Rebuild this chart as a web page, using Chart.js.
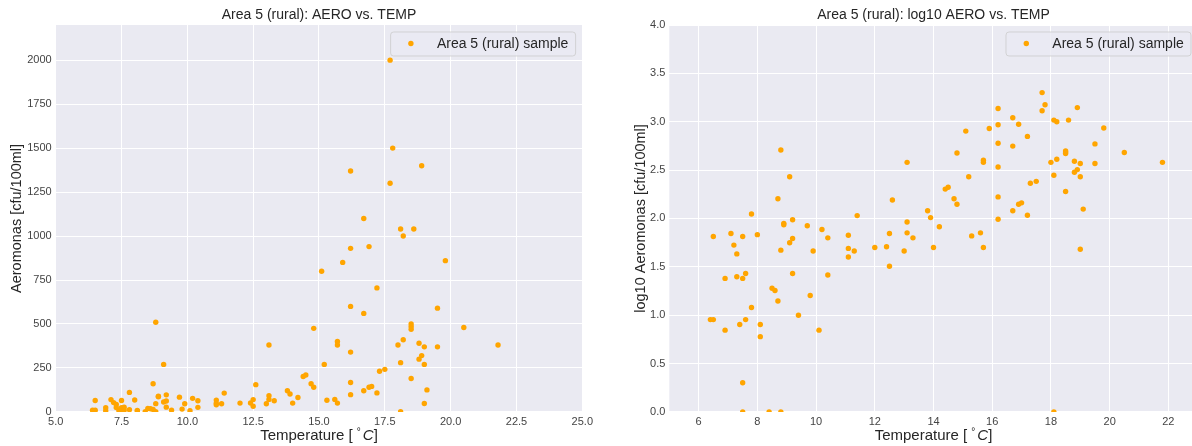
<!DOCTYPE html>
<html>
<head>
<meta charset="utf-8">
<script src="https://cdn.jsdelivr.net/npm/chart.js@4/dist/chart.umd.min.js"></script>
<style>
  html, body { margin: 0; padding: 0; background: #fff; overflow: hidden; width: 1192px; height: 446px; }
  canvas { position: absolute; top: 0; }
  #left { left: 0; }
  #right { left: 596px; }
</style>
</head>
<body>
<canvas id="left" width="596" height="446"></canvas>
<canvas id="right" width="612" height="446"></canvas>
<script>
// water temperature [°C] per sample, Area 5 (rural)
const temperature = [
  6.4, 6.5, 6.5, 6.9, 6.9, 7.1, 7.2, 7.3, 7.3, 7.4,
  7.5, 7.5, 7.6, 7.6, 7.5, 7.5, 7.8, 7.8, 8.0, 8.1,
  8.1, 8.4, 8.5, 8.6, 8.7, 8.7, 8.8, 8.8, 8.8, 8.9,
  8.9, 9.1, 9.1, 9.2, 9.2, 9.2, 9.4, 9.7, 9.8, 9.9,
  10.1, 10.2, 10.4, 10.4, 11.1, 11.1, 11.1, 11.3, 11.4, 12.0,
  12.4, 12.5, 12.5, 12.6, 13.0, 13.1, 13.1, 13.1, 13.3, 13.8,
  13.9, 14.0, 14.2, 14.4, 14.5, 14.7, 14.8, 14.8, 15.1, 15.2,
  15.3, 15.6, 15.7, 15.7, 15.7, 15.9, 16.2, 16.2, 16.2, 16.2,
  16.2, 16.2, 16.7, 16.7, 16.7, 16.9, 16.9, 17.0, 17.2, 17.2,
  17.3, 17.5, 17.7, 17.7, 17.8, 18.0, 18.1, 18.1, 18.1, 18.2,
  18.2, 18.6, 18.5, 18.5, 18.5, 18.5, 18.8, 18.8, 18.9, 18.9,
  19.0, 19.0, 19.0, 19.1, 19.5, 19.5, 19.8, 20.5, 21.8
];
// Aeromonas count [cfu/100ml] per sample
const aeromonas = [
  9, 9, 65, 7, 24, 70, 53, 43, 25, 8,
  65, 24, 27, 9, 2, 1, 111, 12, 68, 8,
  6, 1, 19, 18, 14, 160, 510, 47, 1, 89,
  86, 270, 56, 62, 97, 27, 10, 84, 16, 46,
  7, 77, 63, 26, 67, 49, 40, 46, 107, 50,
  51, 70, 32, 155, 46, 380, 92, 71, 63, 120,
  102, 50, 82, 201, 210, 160, 475, 140, 800, 270,
  66, 71, 50, 400, 380, 850, 1370, 930, 600, 340,
  167, 98, 1100, 560, 120, 940, 140, 145, 705, 108,
  231, 242, 2000, 1300, 1500, 380, 1040, 280, 1, 1000,
  410, 1040, 500, 485, 470, 190, 390, 300, 320, 1400,
  370, 270, 48, 125, 590, 370, 860, 480, 380
];

const xTicksLeft = [5, 7.5, 10, 12.5, 15, 17.5, 20, 22.5, 25];
const yTicksLeft = [0, 250, 500, 750, 1000, 1250, 1500, 1750, 2000];
const xTicksRight = [6, 8, 10, 12, 14, 16, 18, 20, 22];
const yTicksRight = [0, 0.5, 1, 1.5, 2, 2.5, 3, 3.5, 4];

const FONT = '"Liberation Sans", Arial, sans-serif';
const ORANGE = '#FFA500';

// background, titles, axis labels and legend drawn like matplotlib
const decor = {
  id: 'decor',
  beforeDraw(chart, args, opts) {
    const a = chart.chartArea, ctx = chart.ctx;
    ctx.save();
    ctx.fillStyle = '#EAEAF2';
    ctx.fillRect(a.left, a.top, a.right - a.left, a.bottom - a.top);
    ctx.restore();
  },
  afterDraw(chart, args, opts) {
    const a = chart.chartArea, ctx = chart.ctx;
    const cx = (a.left + a.right) / 2, cy = (a.top + a.bottom) / 2;
    ctx.save();
    ctx.fillStyle = '#262626';
    ctx.textBaseline = 'middle';

    // title
    ctx.font = '14px ' + FONT;
    ctx.textAlign = 'center';
    ctx.fillText(opts.title, cx, 15);

    // y label
    ctx.save();
    ctx.translate(opts.yLabelX, cy);
    ctx.rotate(-Math.PI / 2);
    ctx.font = '14.5px ' + FONT;
    ctx.fillText(opts.yLabel, 0, 0);
    ctx.restore();

    // x label: Temperature [ °C ] with italic C
    const f = '15px ' + FONT, fi = 'italic 15px ' + FONT, fs = '10px ' + FONT;
    const parts = [['Temperature [ ', f, 0], ['\u00B0', fs, -4], ['C', fi, 0], [']', f, 0]];
    let w = 0;
    parts.forEach(p => { ctx.font = p[1]; w += ctx.measureText(p[0]).width; });
    w += 2;
    let x = cx - w / 2;
    ctx.textAlign = 'left';
    parts.forEach((p, i) => {
      ctx.font = p[1];
      ctx.fillText(p[0], x, 436 + p[2]);
      x += ctx.measureText(p[0]).width + (i === 1 ? 2 : 0);
    });

    // legend
    const bw = 185, bh = 24;
    const bx = a.right - 6.7 - bw, by = 32;
    ctx.beginPath();
    ctx.roundRect(bx, by, bw, bh, 3);
    ctx.fillStyle = 'rgba(234,234,242,0.8)';
    ctx.fill();
    ctx.strokeStyle = 'rgba(204,204,204,0.8)';
    ctx.lineWidth = 1;
    ctx.stroke();
    ctx.beginPath();
    ctx.arc(bx + 20.3, by + 11.5, 2.7, 0, Math.PI * 2);
    ctx.fillStyle = ORANGE;
    ctx.fill();
    ctx.fillStyle = '#262626';
    ctx.font = '14px ' + FONT;
    ctx.fillText('Area 5 (rural) sample', bx + 46.3, by + 12.5);
    ctx.restore();
  }
};

function makeChart(id, points, cfg) {
  return new Chart(document.getElementById(id), {
    type: 'scatter',
    data: {
      datasets: [{
        label: 'Area 5 (rural) sample',
        data: points,
        backgroundColor: ORANGE,
        borderWidth: 0,
        pointRadius: 2.7,
        pointHoverRadius: 2.7,
        clip: 0
      }]
    },
    options: {
      responsive: false,
      animation: false,
      devicePixelRatio: 1,
      layout: { padding: { top: 25, right: cfg.padRight, left: 0, bottom: 0 } },
      plugins: {
        legend: { display: false },
        tooltip: { enabled: false },
        decor: cfg.decor
      },
      scales: {
        x: {
          type: 'linear',
          min: cfg.xMin, max: cfg.xMax,
          afterBuildTicks: s => { s.ticks = cfg.xTicks.map(v => ({ value: v })); },
          afterFit: s => { s.height = 34.1; },
          grid: { color: '#ffffff', lineWidth: 1, drawTicks: false },
          border: { display: false },
          ticks: {
            padding: 3, color: '#444', font: { family: FONT, size: 11 },
            autoSkip: false, maxRotation: 0,
            callback: cfg.xFmt
          }
        },
        y: {
          type: 'linear',
          min: cfg.yMin, max: cfg.yMax,
          afterBuildTicks: s => { s.ticks = cfg.yTicks.map(v => ({ value: v })); },
          afterFit: s => { s.width = cfg.yWidth; },
          grid: { color: '#ffffff', lineWidth: 1, drawTicks: false },
          border: { display: false },
          ticks: {
            padding: 4, color: '#444', font: { family: FONT, size: 11 },
            autoSkip: false,
            callback: cfg.yFmt
          }
        }
      }
    },
    plugins: [decor]
  });
}

const rawPoints = temperature.map((t, i) => ({ x: t, y: aeromonas[i] }));
const logPoints = temperature.map((t, i) => ({ x: t, y: Math.log10(aeromonas[i]) }));

makeChart('left', rawPoints, {
  xMin: 5, xMax: 25, yMin: 0, yMax: 2200,
  xTicks: xTicksLeft, yTicks: yTicksLeft,
  xFmt: v => Number(v).toFixed(1), yFmt: v => String(v),
  yWidth: 55.7, padRight: 12.3,
  decor: { title: 'Area 5 (rural): AERO vs. TEMP', yLabel: 'Aeromonas [cfu/100ml]', yLabelX: 17 }
});

makeChart('right', logPoints, {
  xMin: 5, xMax: 23, yMin: 0, yMax: 4,
  xTicks: xTicksRight, yTicks: yTicksRight,
  xFmt: v => String(v), yFmt: v => Number(v).toFixed(1),
  yWidth: 73.3, padRight: 10.3,
  decor: { title: 'Area 5 (rural): log10 AERO vs. TEMP', yLabel: 'log10 Aeromonas [cfu/100ml]', yLabelX: 45 }
});
</script>
</body>
</html>
